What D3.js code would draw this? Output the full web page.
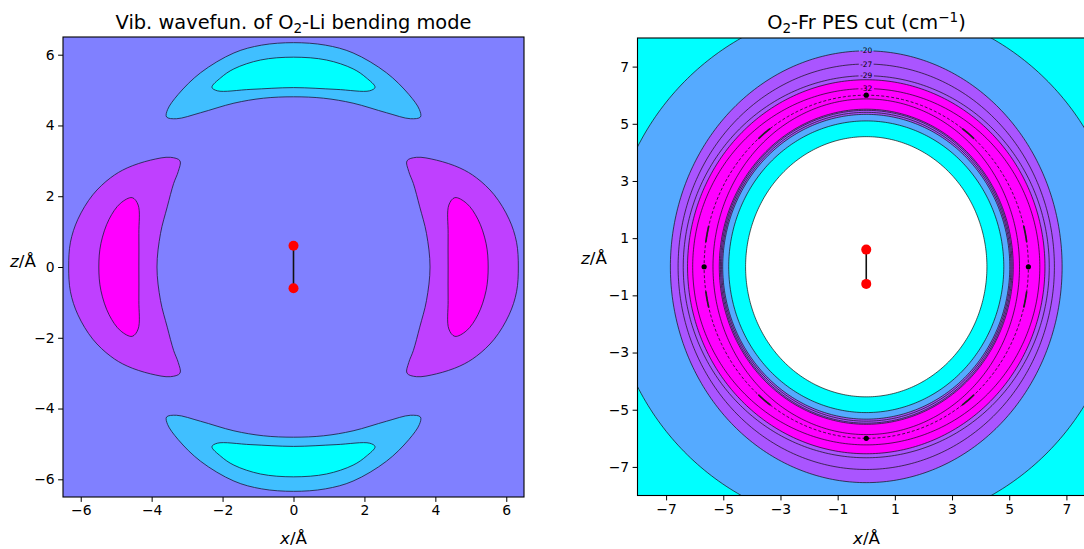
<!DOCTYPE html>
<html>
<head>
<meta charset="utf-8">
<script src="https://cdn.jsdelivr.net/npm/d3@7"></script>
<style>
  body { margin: 0; background: #fff; }
  svg { display: block; }
  text { font-family: "DejaVu Sans", sans-serif; fill: #000; }
</style>
</head>
<body>
<svg id="fig" width="1084" height="549"></svg>
<script>
// ---------- Left panel: bending-mode wavefunction (Å) ----------
// Half outlines of the lobes; each is mirrored to close the shape.
// Top lobe halves run from the top centre leftwards round the tip to the bottom centre.
const topLobeOuter = [[0,6.34],[-0.9,6.27],[-1.68,6.05],[-2.62,5.49],[-3.25,4.88],[-3.55,4.45],
                      [-3.58,4.24],[-3.3,4.19],[-2.62,4.36],[-1.68,4.63],[-0.85,4.77],[0,4.81]];
const topLobeInner = [[0,5.93],[-0.93,5.85],[-1.68,5.60],[-2.05,5.35],[-2.3,5.08],[-2.15,4.98],
                      [-1.2,5.02],[0,5.07]];
// Side lobe halves run from the outer axis point upwards round the tip to the inner axis point.
const sideLobeOuter = [[-6.34,0],[-6.29,0.7],[-6.08,1.35],[-5.66,2.04],[-5.16,2.52],[-4.69,2.8],
                       [-4.03,3.02],[-3.47,3.10],[-3.2,3.0],[-3.25,2.7],[-3.38,2.36],[-3.56,1.70],
                       [-3.75,0.95],[-3.85,0]];
const sideLobeInner = [[-5.49,0],[-5.43,0.67],[-5.2,1.35],[-4.88,1.8],[-4.55,1.96],[-4.38,1.75],
                       [-4.36,0.95],[-4.36,0]];
const waveTicks = [-6,-4,-2,0,2,4,6];
const o2Atoms = [[0,0.6],[0,-0.6]];

// ---------- Right panel: O2-Fr PES cut (cm^-1) ----------
const pesTicks = [-7,-5,-3,-1,1,3,5,7];
// Filled-band boundaries, outermost first (semi-axes along x and z, Å)
const pesBandLevels = [-10,-20,-30,-30,-20,-10,0];
const pesBandRx     = [9.0, 6.85,6.25,5.14,5.02,4.81,4.22];
const pesBandRz     = [9.15,7.55,6.54,5.51,5.33,5.10,4.55];
// Extra contour lines inside the well
const pesLineLevels = [-27, -29, -32, -32, -29, -27];
const pesLineRx     = [6.58,6.40,6.07,5.36,5.10,5.06];
const pesLineRz     = [7.09,6.68,6.23,5.87,5.47,5.40];
// Levels labelled on the outer side of the well
const pesLabelLevels = [-20,-27,-29,-32];
// Minimum-energy path, the minima on it and the small marks along it (angle from +z, degrees)
const pesMinPathRx = 5.67, pesMinPathRz = 6.0;
const pesMinima = [[0,6.0],[0,-6.0],[-5.67,0],[5.67,0]];
const pesPathMarks = [-141,-101,-79,-39,39,79,101,141];

// colours (matplotlib "cool" steps)
const waveColors = {bg:"#8080ff", negOuter:"#40bfff", negInner:"#00ffff", posOuter:"#bf40ff", posInner:"#ff00ff"};
// fill just inside each PES band boundary, outer to inner
const pesBandPalette = ["#55aaff","#aa55ff","#ff00ff","#aa55ff","#55aaff","#00ffff","#ffffff"];
const pesOutside = "#00ffff";

const svg = d3.select("#fig");

const xW = d3.scaleLinear().domain([-6.5,6.5]).range([63,524]);
const yW = d3.scaleLinear().domain([-6.5,6.5]).range([497,37]);
const xP = d3.scaleLinear().domain([-8,8]).range([637.5,1095]);
const yP = d3.scaleLinear().domain([-8,8]).range([495.5,38]);

const closeSide = h => h.concat(h.slice(1,-1).reverse().map(([x,z]) => [x,-z]));
const closeTop  = h => h.concat(h.slice(1,-1).reverse().map(([x,z]) => [-x,z]));
const flipX = p => p.map(([x,z]) => [-x,z]);
const flipZ = p => p.map(([x,z]) => [x,-z]);

const defs = svg.append("defs");
function clipFor(id, x, y) {
  defs.append("clipPath").attr("id", id).append("rect")
    .attr("x", x.range()[0]).attr("y", y.range()[1])
    .attr("width", x.range()[1]-x.range()[0]).attr("height", y.range()[0]-y.range()[1]);
}
clipFor("clipW", xW, yW);
clipFor("clipP", xP, yP);

// ---------- wavefunction panel ----------
const gW = svg.append("g").attr("clip-path","url(#clipW)");
gW.append("rect").attr("x",xW(-6.5)).attr("y",yW(6.5))
  .attr("width",xW(6.5)-xW(-6.5)).attr("height",yW(-6.5)-yW(6.5)).attr("fill",waveColors.bg);

const lobeLine = d3.line().x(d => xW(d[0])).y(d => yW(d[1])).curve(d3.curveCatmullRomClosed.alpha(0.5));
const topOuter = closeTop(topLobeOuter), topInner = closeTop(topLobeInner);
const sideOuter = closeSide(sideLobeOuter), sideInner = closeSide(sideLobeInner);
const lobes = [
  [topOuter, waveColors.negOuter], [topInner, waveColors.negInner],
  [flipZ(topOuter), waveColors.negOuter], [flipZ(topInner), waveColors.negInner],
  [sideOuter, waveColors.posOuter], [sideInner, waveColors.posInner],
  [flipX(sideOuter), waveColors.posOuter], [flipX(sideInner), waveColors.posInner]
];
gW.selectAll("path.lobe").data(lobes).join("path").attr("class","lobe")
  .attr("d", d => lobeLine(d[0])).attr("fill", d => d[1])
  .attr("stroke","#1a1a3a").attr("stroke-width",0.8);

function molecule(g, x, y, r) {
  g.append("line").attr("x1",x(o2Atoms[0][0])).attr("y1",y(o2Atoms[0][1]))
    .attr("x2",x(o2Atoms[1][0])).attr("y2",y(o2Atoms[1][1]))
    .attr("stroke","#111").attr("stroke-width",1.6);
  g.selectAll("circle.atom").data(o2Atoms).join("circle").attr("class","atom")
    .attr("cx",d => x(d[0])).attr("cy",d => y(d[1])).attr("r",r).attr("fill","#ff0000");
}
molecule(gW, xW, yW, 5);

// ---------- PES panel ----------
const gP = svg.append("g").attr("clip-path","url(#clipP)");
gP.append("rect").attr("x",xP(-8)).attr("y",yP(8))
  .attr("width",xP(8)-xP(-8)).attr("height",yP(-8)-yP(8)).attr("fill",pesOutside);

// points on an ellipse, parameter measured from +z; optional gap around the top
const ring = (rx, rz, gap = 0, n = 360, t0 = 0, t1 = 2*Math.PI) => d3.range(n+1).map(i => {
  const t = t0 + gap + (t1 - t0 - 2*gap) * i / n;
  return [rx*Math.sin(t), rz*Math.cos(t)];
});
const pesLine = d3.line().x(d => xP(d[0])).y(d => yP(d[1]));

gP.selectAll("path.band").data(pesBandLevels).join("path").attr("class","band")
  .attr("d",(d,i) => pesLine(ring(pesBandRx[i], pesBandRz[i])) + "Z")
  .attr("fill",(d,i) => pesBandPalette[i]);

// contour lines; labelled outer ones get a gap at the top for the label
const labelled = new Set();
const lineSet = [];
pesBandLevels.forEach((lv,i) => lineSet.push({lv, rx:pesBandRx[i], rz:pesBandRz[i], outer: i < 3}));
pesLineLevels.forEach((lv,i) => lineSet.push({lv, rx:pesLineRx[i], rz:pesLineRz[i], outer: i < 3}));
lineSet.forEach(d => {
  d.label = d.outer && pesLabelLevels.includes(d.lv) && !labelled.has(d.lv);
  if (d.label) labelled.add(d.lv);
});
gP.selectAll("path.cline").data(lineSet).join("path").attr("class","cline")
  .attr("d", d => pesLine(ring(d.rx, d.rz, d.label ? 8 / (d.rz*28.6) : 0)))
  .attr("fill","none").attr("stroke","#111").attr("stroke-width",0.7);
gP.selectAll("text.clabel").data(lineSet.filter(d => d.label)).join("text").attr("class","clabel")
  .attr("x", xP(0)).attr("y", d => yP(d.rz)).attr("dy","0.35em")
  .attr("text-anchor","middle").attr("font-size",7.5).attr("fill","#2a2a2a")
  .text(d => "-" + Math.abs(d.lv));

gP.append("path").attr("d", pesLine(ring(pesMinPathRx, pesMinPathRz)) + "Z")
  .attr("fill","none").attr("stroke","#111").attr("stroke-width",0.8).attr("stroke-dasharray","3,2");
// short solid marks along the path
const rad = Math.PI/180;
gP.selectAll("path.pathmark").data(pesPathMarks).join("path").attr("class","pathmark")
  .attr("d", a => pesLine(ring(pesMinPathRx, pesMinPathRz, 0, 8, (a-2.5)*rad, (a+2.5)*rad)))
  .attr("fill","none").attr("stroke","#222").attr("stroke-width",1.7).attr("stroke-linecap","round");
gP.selectAll("circle.minimum").data(pesMinima).join("circle").attr("class","minimum")
  .attr("cx",d => xP(d[0])).attr("cy",d => yP(d[1])).attr("r",2.6).attr("fill","#000");
molecule(gP, xP, yP, 5);

// ---------- axes, frames, labels ----------
function axes(x, y, ticks) {
  const fmt = d3.format("d");
  const ax = svg.append("g").attr("transform",`translate(0,${y.range()[0]})`)
    .call(d3.axisBottom(x).tickValues(ticks).tickSize(4.9).tickPadding(3.5).tickFormat(fmt));
  const ay = svg.append("g").attr("transform",`translate(${x.range()[0]},0)`)
    .call(d3.axisLeft(y).tickValues(ticks).tickSize(4.9).tickPadding(3.5).tickFormat(fmt));
  [ax, ay].forEach(a => {
    a.select(".domain").remove();
    a.attr("font-family",null).attr("font-size",null);
    a.selectAll(".tick line").attr("stroke","#000").attr("stroke-width",1);
    a.selectAll(".tick text").attr("font-size","13.9px").attr("fill","#000");
  });
  svg.append("rect").attr("x",x.range()[0]).attr("y",y.range()[1])
    .attr("width",x.range()[1]-x.range()[0]).attr("height",y.range()[0]-y.range()[1])
    .attr("fill","none").attr("stroke","#000").attr("stroke-width",1.1);
}
axes(xW, yW, waveTicks);
axes(xP, yP, pesTicks);

function axisLabel(x0, y0, v, anchor) {
  const t = svg.append("text").attr("x",x0).attr("y",y0).attr("text-anchor",anchor).attr("font-size","16.7px");
  t.append("tspan").attr("font-style","italic").text(v);
  t.append("tspan").text("/Å");
}
axisLabel(xW(0), 544, "x", "middle");
axisLabel(866.5, 544, "x", "middle");
axisLabel(23, 267, "z", "middle");
axisLabel(594, 264, "z", "middle");

// titles
const tW = svg.append("text").attr("x",xW(0)).attr("y",29).attr("text-anchor","middle").attr("font-size","19.4px");
tW.append("tspan").text("Vib. wavefun. of O");
tW.append("tspan").attr("font-size","13.6px").attr("dy",4).text("2");
tW.append("tspan").attr("dy",-4).text("-Li bending mode");

const tP = svg.append("text").attr("x",866.5).attr("y",29).attr("text-anchor","middle").attr("font-size","19.4px");
tP.append("tspan").text("O");
tP.append("tspan").attr("font-size","13.6px").attr("dy",4).text("2");
tP.append("tspan").attr("dy",-4).text("-Fr PES cut (cm");
tP.append("tspan").attr("font-size","13.6px").attr("dy",-7).text("−1");
tP.append("tspan").attr("dy",7).text(")");
</script>
</body>
</html>
